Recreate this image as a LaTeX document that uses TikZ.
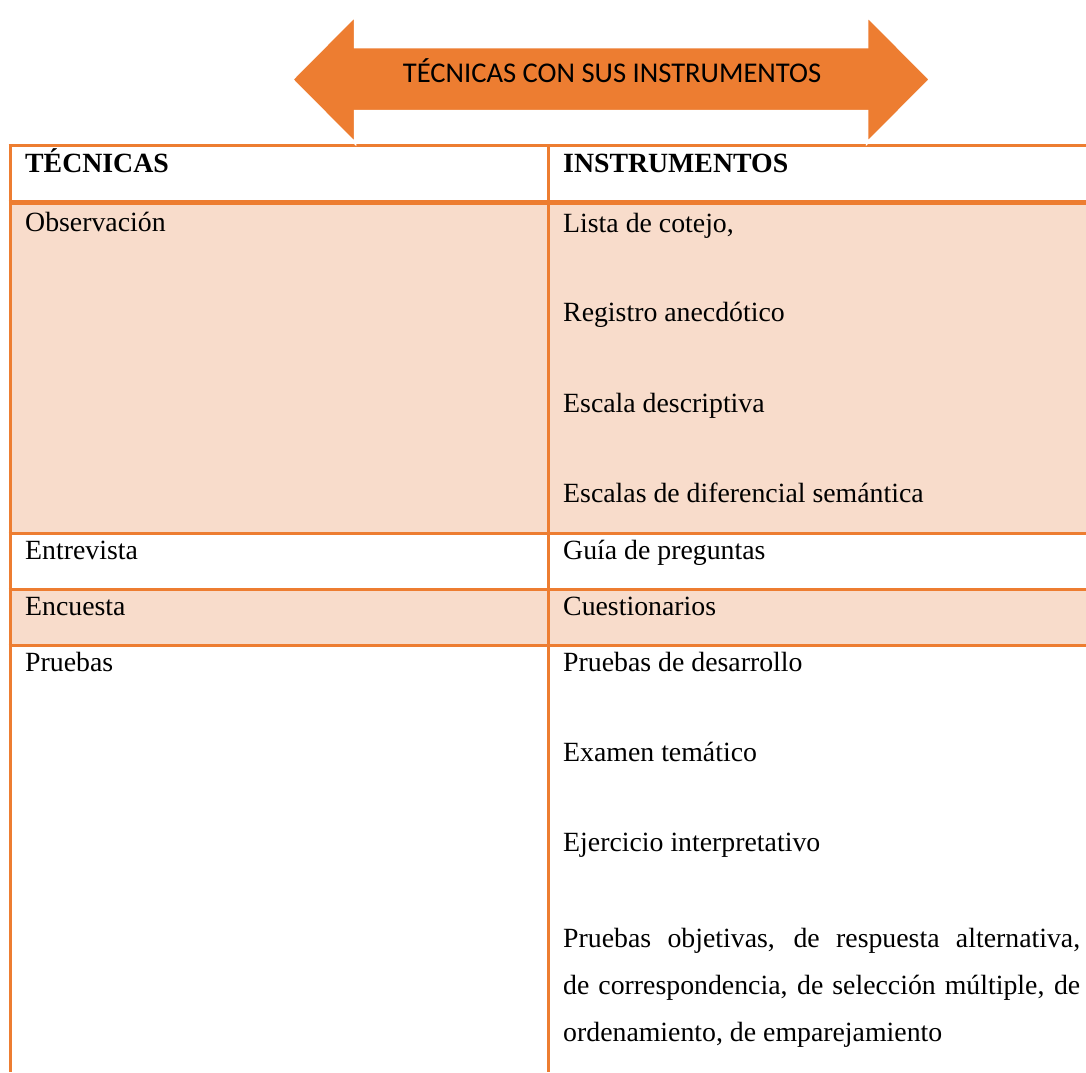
\documentclass[tikz,border=0pt]{standalone}
\usepackage{fontspec}
\setmainfont{Liberation Serif}
\newfontfamily\calib{Carlito}
\definecolor{accorange}{HTML}{ED7D31}
\definecolor{rowfill}{HTML}{F8DCCB}
\begin{document}
\begin{tikzpicture}[x=1pt,y=-1pt,
  cell/.style={anchor=base west,inner sep=0pt,font=\fontsize{27.8}{32}\selectfont},
  headcell/.style={cell,font=\fontsize{27.8}{32}\selectfont\bfseries},
  rule/.style={draw=accorange,line width=3pt},
  title/.style={inner sep=0pt,anchor=base,font=\calib\fontsize{28.6}{34}\selectfont}]
\useasboundingbox (0,0) rectangle (1086,1072);
% row fills
\fill[rowfill] (10,203) rectangle (1086,533.5);
\fill[rowfill] (10,589.2) rectangle (1086,645.5);
% horizontal rules
\coordinate (tl) at (8.5,145.3);
\coordinate (tr) at (1086,145.3);
\draw[rule,line width=2.5pt] (tl) -- (tr);
\coordinate (h1l) at (8.5,202.7);
\coordinate (h1r) at (1086,202.7);
\draw[rule,line width=5pt] (h1l) -- (h1r);
\coordinate (h2l) at (8.5,533.5);
\coordinate (h2r) at (1086,533.5);
\draw[rule] (h2l) -- (h2r);
\coordinate (h3l) at (8.5,589.2);
\coordinate (h3r) at (1086,589.2);
\draw[rule] (h3l) -- (h3r);
\coordinate (h4l) at (8.5,645.5);
\coordinate (h4r) at (1086,645.5);
\draw[rule] (h4l) -- (h4r);
% vertical rules
\coordinate (v1t) at (10,144);
\coordinate (v1b) at (10,1072);
\draw[rule] (v1t) -- (v1b);
\coordinate (v2t) at (548.5,144);
\coordinate (v2b) at (548.5,1072);
\draw[rule,line width=3.5pt] (v2t) -- (v2b);
% double arrow banner
\fill[accorange,draw=white,line width=2.5pt,line join=miter]
  (292,79.5) -- (355,16) -- (355,47) -- (867,47) -- (867,16) -- (930,79.5)
  -- (867,143) -- (867,111) -- (355,111) -- (355,143) -- cycle;
\node[title] (banner) at (612,82) {TÉCNICAS CON SUS INSTRUMENTOS};
% header
\node[headcell] (hT) at (25,172) {TÉCNICAS};
\node[headcell] (hI) at (563,172) {INSTRUMENTOS};
% left column
\node[cell] (obs) at (25,231) {Observación};
\node[cell] (ent) at (25,559) {Entrevista};
\node[cell] (enc) at (25,615) {Encuesta};
\node[cell] (pru) at (25,671) {Pruebas};
% right column
\node[cell] (i1) at (563,232) {Lista de cotejo,};
\node[cell] (i2) at (563,321) {Registro anecdótico};
\node[cell] (i3) at (563,412) {Escala descriptiva};
\node[cell] (i4) at (563,502) {Escalas de diferencial semántica};
\node[cell] (i5) at (563,559) {Guía de preguntas};
\node[cell] (i6) at (563,615) {Cuestionarios};
\node[cell] (i7) at (563,671) {Pruebas de desarrollo};
\node[cell] (i8) at (563,761) {Examen temático};
\node[cell] (i9) at (563,851) {Ejercicio interpretativo};
\node[cell] (i10) at (563,947) {\makebox[517pt][s]{Pruebas objetivas, de respuesta alternativa,}};
\node[cell] (i11) at (563,994) {\makebox[517pt][s]{de correspondencia, de selección múltiple, de}};
\node[cell] (i12) at (563,1041) {ordenamiento, de emparejamiento};
\end{tikzpicture}
\end{document}
